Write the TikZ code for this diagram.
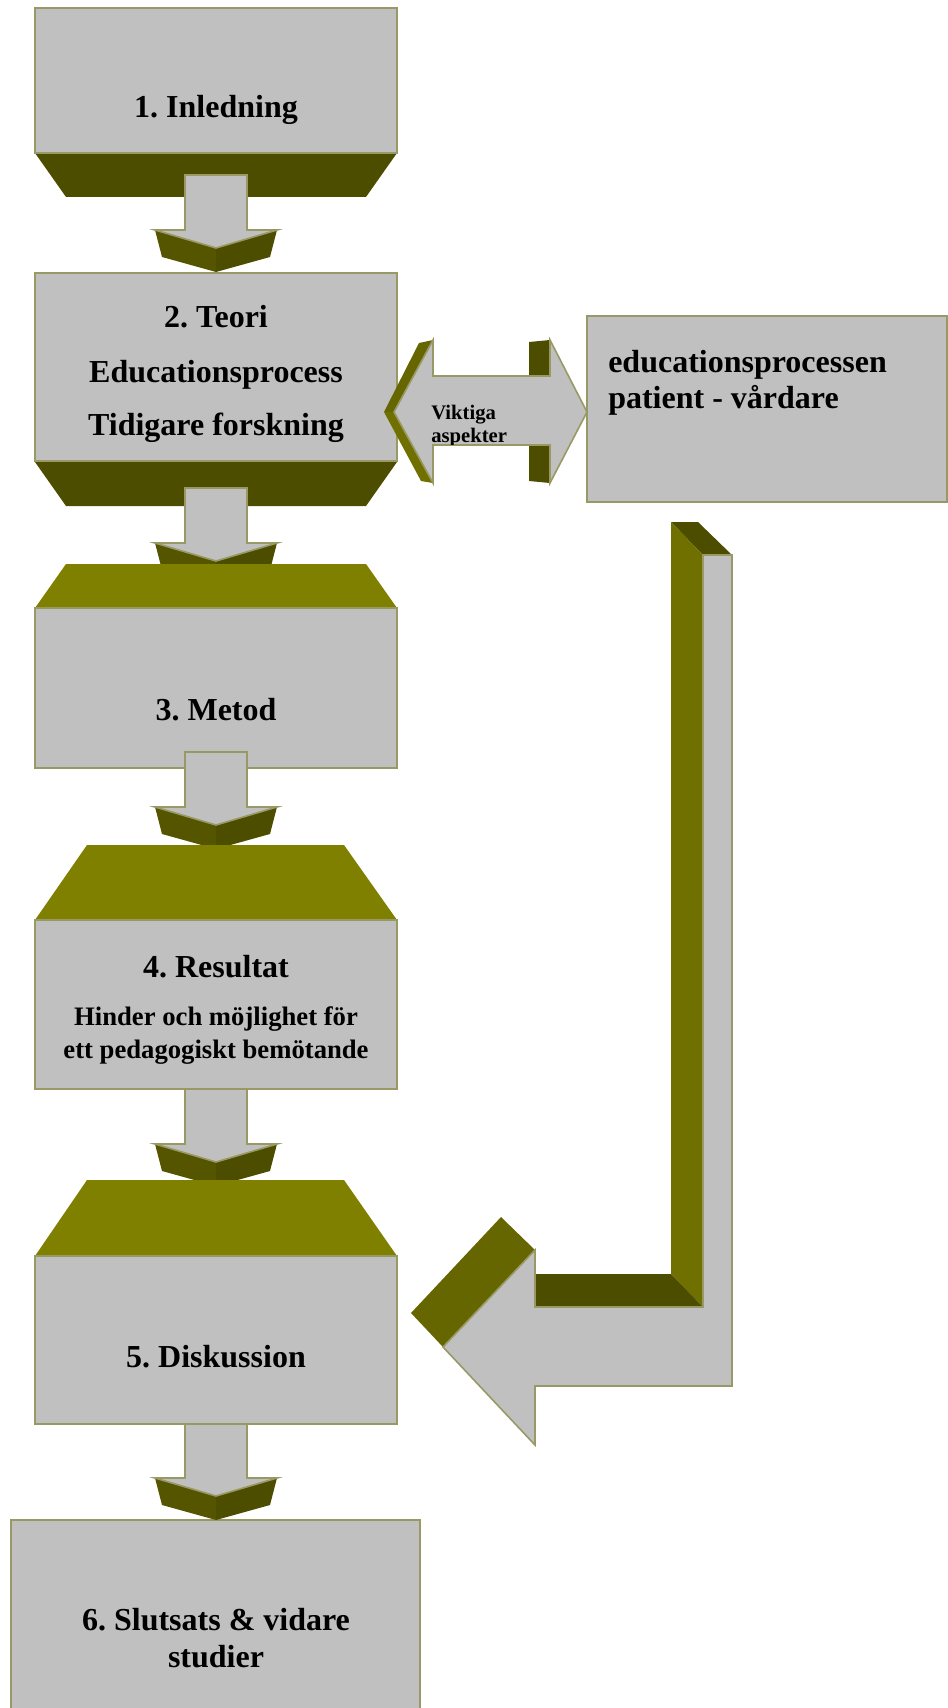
\documentclass[tikz,border=0pt]{standalone}
\usepackage{fontspec}
\setmainfont{Liberation Serif}
\frenchspacing
\begin{document}
\begin{tikzpicture}[x=0.75pt,y=0.75pt,yscale=-1,
  face/.style={draw={rgb, 255:red, 153; green, 153; blue, 102}, fill={rgb, 255:red, 192; green, 192; blue, 192}, line width=1.2pt},
  darkside/.style={fill={rgb, 255:red, 77; green, 77; blue, 0}},
  leftside/.style={fill={rgb, 255:red, 85; green, 85; blue, 0}},
  topside/.style={fill={rgb, 255:red, 128; green, 128; blue, 0}},
  wallside/.style={fill={rgb, 255:red, 112; green, 112; blue, 0}},
  headside/.style={fill={rgb, 255:red, 102; green, 102; blue, 0}},
  title/.style={font=\fontsize{24}{28}\selectfont\bfseries, inner sep=0pt, anchor=base},
  subtitle/.style={font=\fontsize{20}{24}\selectfont\bfseries, inner sep=0pt, anchor=base},
  small/.style={font=\fontsize{15.5}{17}\selectfont\bfseries, inner sep=0pt, anchor=base west}]
\clip (0,0) rectangle (948,1708);

%Shape: Trapezoid [id:box1 bottom]
\fill [darkside] (35,153) -- (397,153) -- (366,197) -- (66,197) -- cycle ;
%Shape: Rectangle [id:box1]
\draw [face] (35,8) rectangle (397,153) ;
%Shape: Down Arrow [id:arrow1]
\fill [leftside] (155,230) -- (162,257) -- (216,272) -- (216,248) -- cycle ;
\fill [darkside] (216,248) -- (216,272) -- (270,257) -- (277,230) -- cycle ;
\draw [face] (185,175) -- (247,175) -- (247,230) -- (277,230) -- (216,248) -- (155,230) -- (185,230) -- cycle ;

%Shape: Rectangle [id:box2]
\draw [face] (35,273) rectangle (397,461) ;
%Shape: Trapezoid [id:box2 bottom]
\fill [darkside] (35,462) -- (397,462) -- (366,506) -- (66,506) -- cycle ;
%Shape: Down Arrow [id:arrow2]
\fill [leftside] (155,543) -- (162,570) -- (216,585) -- (216,561) -- cycle ;
\fill [darkside] (216,561) -- (216,585) -- (270,570) -- (277,543) -- cycle ;
\draw [face] (185,488) -- (247,488) -- (247,543) -- (277,543) -- (216,561) -- (155,543) -- (185,543) -- cycle ;

%Shape: Trapezoid [id:box3 top]
\fill [topside] (66,564) -- (366,564) -- (397,608) -- (35,608) -- cycle ;
%Shape: Rectangle [id:box3]
\draw [face] (35,608) rectangle (397,768) ;
%Shape: Down Arrow [id:arrow3]
\fill [leftside] (155,807) -- (162,834) -- (216,849) -- (216,825) -- cycle ;
\fill [darkside] (216,825) -- (216,849) -- (270,834) -- (277,807) -- cycle ;
\draw [face] (185,752) -- (247,752) -- (247,807) -- (277,807) -- (216,825) -- (155,807) -- (185,807) -- cycle ;

%Shape: Trapezoid [id:box4 top]
\fill [topside] (87,845) -- (344,845) -- (397,920) -- (35,920) -- cycle ;
%Shape: Rectangle [id:box4]
\draw [face] (35,920) rectangle (397,1089) ;
%Shape: Down Arrow [id:arrow4]
\fill [leftside] (155,1144) -- (162,1171) -- (216,1186) -- (216,1162) -- cycle ;
\fill [darkside] (216,1162) -- (216,1186) -- (270,1171) -- (277,1144) -- cycle ;
\draw [face] (185,1089) -- (247,1089) -- (247,1144) -- (277,1144) -- (216,1162) -- (155,1144) -- (185,1144) -- cycle ;

%Shape: Trapezoid [id:box5 top]
\fill [topside] (87,1180) -- (344,1180) -- (397,1256) -- (35,1256) -- cycle ;
%Shape: Rectangle [id:box5]
\draw [face] (35,1256) rectangle (397,1424) ;

%Shape: Rectangle [id:box6]
\draw [face] (11,1520) rectangle (420,1720) ;
%Shape: Down Arrow [id:arrow5]
\fill [leftside] (155,1478) -- (162,1505) -- (216,1520) -- (216,1496) -- cycle ;
\fill [darkside] (216,1496) -- (216,1520) -- (270,1505) -- (277,1478) -- cycle ;
\draw [face] (185,1424) -- (247,1424) -- (247,1478) -- (277,1478) -- (216,1496) -- (155,1478) -- (185,1478) -- cycle ;

%Shape: Rectangle [id:side box]
\draw [face] (587,316) rectangle (947,502) ;

%Shape: Left Right Arrow [id:aspects]
\fill [headside] (384,412) -- (419,343) -- (433,340) -- (394,412) -- cycle ;
\fill [wallside] (384,412) -- (394,412) -- (433,483) -- (421,481) -- cycle ;
\fill [darkside] (529,342) -- (550,340) -- (550,376) -- (529,376) -- cycle ;
\fill [darkside] (529,445) -- (550,445) -- (550,483) -- (529,481) -- cycle ;
\draw [face] (394,412) -- (433,340) -- (433,376) -- (550,376) -- (550,340) -- (587,412) -- (550,483) -- (550,445) -- (433,445) -- (433,483) -- cycle ;

%Shape: Bent Arrow [id:feedback]
\fill [darkside] (703,555) -- (732,555) -- (698,522) -- (671,522) -- cycle ;
\fill [wallside] (671,522) -- (703,555) -- (703,1307) -- (671,1274) -- cycle ;
\fill [darkside] (535,1274) -- (671,1274) -- (703,1307) -- (535,1307) -- cycle ;
\fill [headside] (443,1347) -- (411,1313) -- (501,1217) -- (535,1250) -- cycle ;
\draw [face] (703,555) -- (732,555) -- (732,1386) -- (535,1386) -- (535,1445) -- (443,1347) -- (535,1250) -- (535,1307) -- (703,1307) -- cycle ;

% Text Node
\node [title] (inledning) at (216,118) {1. Inledning};
% Text Node
\node [title] (teori) at (216,328) {2. Teori};
\node [title] (process) at (216,382) {Educationsprocess};
\node [title] (forskning) at (216,435) {Tidigare forskning};
% Text Node
\node [title] (metod) at (216,720) {3. Metod};
% Text Node
\node [title] (resultat) at (216,977) {4. Resultat};
\node [subtitle] (hinder) at (216,1025) {Hinder och möjlighet för};
\node [subtitle] (bemote) at (216,1058) {ett pedagogiskt bemötande};
% Text Node
\node [title] (diskussion) at (216,1367) {5. Diskussion};
% Text Node
\node [title] (slutsats) at (216,1630) {6. Slutsats \& vidare};
\node [title] (studier) at (216,1667) {studier};
% Text Node
\node [title, anchor=base west] (edproc) at (608,372) {educationsprocessen};
\node [title, anchor=base west] (parter) at (608,408) {patient - vårdare};
% Text Node
\begin{scope}
\clip (394,412) -- (433,340) -- (433,376) -- (550,376) -- (550,340) -- (587,412) -- (550,483) -- (550,444) -- (433,444) -- (433,483) -- cycle ;
\node [small] (viktiga) at (431,419) {Viktiga};
\node [small] (aspekter) at (431,442) {aspekter};
\end{scope}

\end{tikzpicture}
\end{document}
